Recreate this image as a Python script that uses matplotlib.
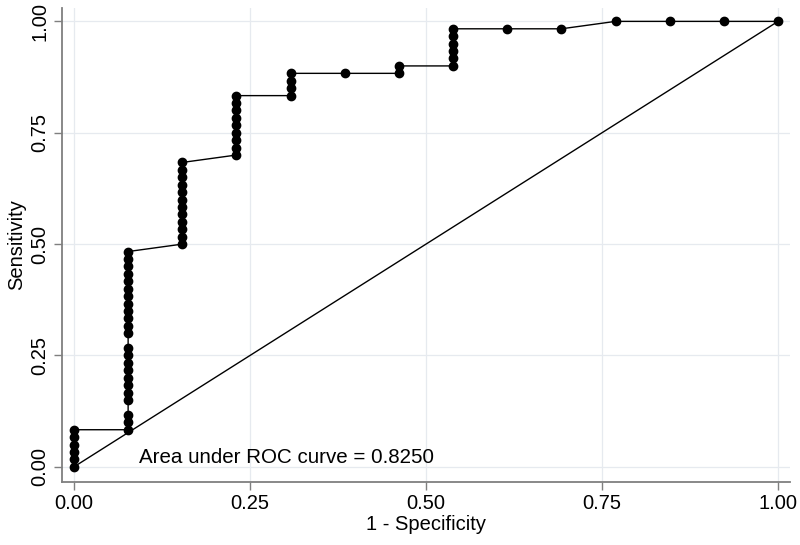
import numpy as np
import matplotlib.pyplot as plt

plt.rcParams['font.family'] = ['Liberation Sans', 'DejaVu Sans']

# 13 negatives, 60 positives; one point per cutoff, in plotting order
n_neg = 13
n_pos = 60
fp_counts = ([0] * 6 + [1] * 23 + [2] * 12 + [3] * 9 + [4] * 4 + [5]
             + [6] * 2 + [7] * 6 + [8, 9, 10, 11, 12, 13])
tp_counts = ([0, 1, 2, 3, 4, 5]
             + [5, 6, 7, 9, 10, 11, 12, 13, 14, 15, 16, 18, 19, 20, 21, 22, 23,
                24, 25, 26, 27, 28, 29]
             + [30, 31, 32, 33, 34, 35, 36, 37, 38, 39, 40, 41]
             + [42, 43, 44, 45, 46, 47, 48, 49, 50]
             + [50, 51, 52, 53]
             + [53]
             + [53, 54]
             + [54, 55, 56, 57, 58, 59]
             + [59, 59, 60, 60, 60, 60])

auc_text = "Area under ROC curve = 0.8250"
ticks = [0.0, 0.25, 0.5, 0.75, 1.0]
tick_labels = ["0.00", "0.25", "0.50", "0.75", "1.00"]

fpr = np.array(fp_counts) / n_neg
tpr = np.array(tp_counts) / n_pos

fs = 14.5
fig = plt.figure(figsize=(8, 5.45), dpi=100)
ax = fig.add_axes([0.0775, 0.1156, 0.91, 0.8697])

ax.plot([0, 1], [0, 1], color='black', lw=1.0, zorder=2)
ax.plot(fpr, tpr, color='black', lw=1.0, marker='o', markersize=6, zorder=3)

ax.set_xlim(-0.017, 1.017)
ax.set_ylim(-0.034, 1.03)
ax.set_xticks(ticks)
ax.set_xticklabels(tick_labels, fontsize=fs)
ax.set_yticks(ticks)
ax.set_yticklabels(tick_labels, fontsize=fs, rotation=90, va='center')
ax.grid(True, color='#e6eaef', lw=0.9)
ax.set_axisbelow(True)

for s in ['top', 'right']:
    ax.spines[s].set_visible(False)
for s in ['left', 'bottom']:
    ax.spines[s].set_color('#7f7f7f')
    ax.spines[s].set_linewidth(1.3)
ax.tick_params(direction='out', length=6, color='#7f7f7f', width=1.0, pad=3)

ax.set_xlabel("1 - Specificity", fontsize=fs, labelpad=1)
ax.set_ylabel("Sensitivity", fontsize=fs, labelpad=3)
ax.text(0.093, 0.02, auc_text, fontsize=14.8, ha='left', va='center')

fig.savefig("out.png", dpi=100)
